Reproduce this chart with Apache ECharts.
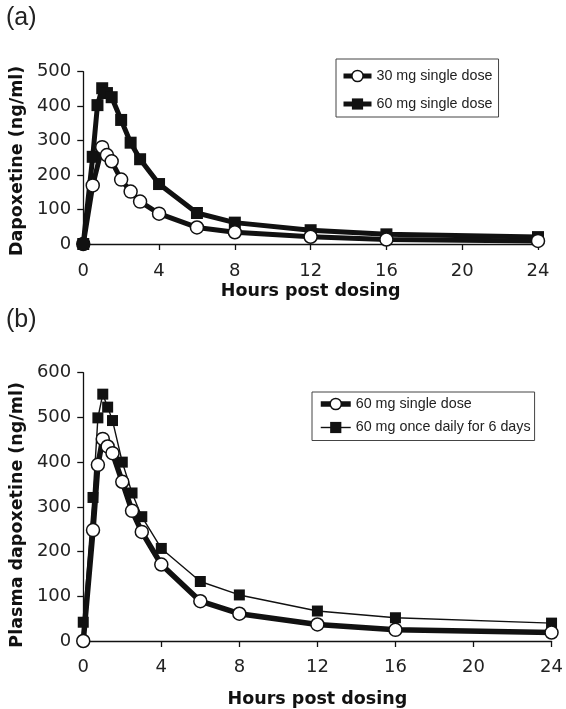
<!DOCTYPE html>
<html><head><meta charset="utf-8">
<script src="https://cdn.jsdelivr.net/npm/echarts@6/dist/echarts.min.js"></script>
<style>html,body{margin:0;padding:0;background:#fff}#c{width:566px;height:709px}</style>
</head><body><div id="c"></div>
<script>
// Panel (a)
const timesA30 = [0, 0.5, 1, 1.25, 1.5, 2, 2.5, 3, 4, 6, 8, 12, 16, 24];
const dose30a  = [0, 170, 281, 258, 240, 187, 152, 123, 88, 48, 34, 21, 13, 9];
const timesA60 = [0, 0.5, 0.75, 1, 1.25, 1.5, 2, 2.5, 3, 4, 6, 8, 12, 16, 24];
const dose60a  = [0, 253, 403, 452, 438, 426, 360, 294, 246, 174, 90, 62, 40, 28, 20];
// Panel (b)
const timesB    = [0, 0.5, 0.75, 1, 1.25, 1.5, 2, 2.5, 3, 4, 6, 8, 12, 16, 24];
const single60b = [0, 248, 394, 452, 435, 420, 356, 291, 244, 171, 89, 61, 37, 25, 19];
const multi60b  = [42, 321, 499, 552, 523, 493, 400, 331, 278, 207, 133, 103, 67, 52, 40];
// labels
const nameA30 = '30 mg single dose';
const nameA60 = '60 mg single dose';
const nameB1 = '60 mg single dose ';
const nameB2 = '60 mg once daily for 6 days';
const xTitle = 'Hours post dosing';
const yTitleA = 'Dapoxetine (ng/ml)';
const yTitleB = 'Plasma dapoxetine (ng/ml)';

const zip = (xs, ys) => xs.map((x, i) => [x, ys[i]]);
const FONT = 'DejaVu Sans';
const LFONT = 'Liberation Sans';

function xAxis(gi, gap, margin) {
  return {
    type: 'value', gridIndex: gi, min: 0, max: 24, interval: 4,
    name: xTitle, nameLocation: 'middle', nameGap: gap,
    nameTextStyle: { fontFamily: FONT, fontWeight: 'bold', fontSize: 17.5, color: '#111' },
    axisLine: { show: true, onZero: false, lineStyle: { color: '#111', width: 1.3 } },
    axisTick: { show: true, inside: false, length: 6, lineStyle: { color: '#111', width: 1.3 } },
    axisLabel: { fontFamily: FONT, fontSize: 18, color: '#222', margin: margin },
    splitLine: { show: false }
  };
}
function yAxis(gi, max, name, gap, shift) {
  return {
    type: 'value', gridIndex: gi, min: 0, max: max, interval: 100,
    name: name, nameLocation: 'middle', nameGap: gap, nameRotate: 90,
    nameTextStyle: { fontFamily: FONT, fontWeight: 'bold', fontSize: 17.5, color: '#111', padding: [0, shift, 0, 0] },
    axisLine: { show: true, onZero: false, lineStyle: { color: '#111', width: 1.3 } },
    axisTick: { show: true, inside: false, length: 6, lineStyle: { color: '#111', width: 1.3 } },
    axisLabel: { fontFamily: FONT, fontSize: 18, color: '#222', margin: 12 },
    splitLine: { show: false }
  };
}

const d30 = zip(timesA30, dose30a);
d30[0] = { value: d30[0], itemStyle: { color: '#111' } };

const option = {
  animation: false,
  backgroundColor: '#fff',
  title: [
    { text: '(a)', left: 6, top: 6, padding: 0, textStyle: { fontFamily: LFONT, fontWeight: 'normal', fontSize: 25, color: '#222' } },
    { text: '(b)', left: 6, top: 308, padding: 0, textStyle: { fontFamily: LFONT, fontWeight: 'normal', fontSize: 25, color: '#222' } }
  ],
  grid: [
    { left: 77, right: 28, top: 71.7, height: 172.3 },
    { left: 79, right: 13, top: 372.7, height: 269 }
  ],
  xAxis: [xAxis(0, 38, 18), xAxis(1, 49, 17)],
  yAxis: [yAxis(0, 500, yTitleA, 55, 6), yAxis(1, 600, yTitleB, 57, 16)],
  legend: [
    {
      data: [
        { name: nameA30, lineStyle: { width: 5, color: '#111' }, itemStyle: { color: '#fff', borderColor: '#111', borderWidth: 1.5 } },
        { name: nameA60, lineStyle: { width: 5, color: '#111' } }
      ],
      orient: 'vertical', left: 336, top: 59,
      padding: [10, 6, 6, 5], itemGap: 14, itemWidth: 28, itemHeight: 14,
      borderColor: '#444', borderWidth: 1, selectedMode: false,
      textStyle: { fontFamily: LFONT, fontSize: 14.3, color: '#222' }
    },
    {
      data: [
        { name: nameB1, lineStyle: { width: 5.5, color: '#111' }, itemStyle: { color: '#fff', borderColor: '#111', borderWidth: 1.5 } },
        { name: nameB2, lineStyle: { width: 1.4, color: '#111' } }
      ],
      orient: 'vertical', left: 312, top: 392,
      padding: [5, 4, 6, 6], itemGap: 9.5, itemWidth: 30, itemHeight: 14,
      borderColor: '#444', borderWidth: 1, selectedMode: false,
      textStyle: { fontFamily: LFONT, fontSize: 14.3, color: '#222' }
    }
  ],
  series: [
    {
      name: nameA60, type: 'line', xAxisIndex: 0, yAxisIndex: 0, data: zip(timesA60, dose60a),
      symbol: 'rect', symbolSize: 12, z: 2,
      lineStyle: { color: '#111', width: 5 }, itemStyle: { color: '#111', borderColor: '#111', borderWidth: 0 }
    },
    {
      name: nameA30, type: 'line', xAxisIndex: 0, yAxisIndex: 0, data: d30,
      symbol: 'circle', symbolSize: 13, z: 3,
      lineStyle: { color: '#111', width: 5 }, itemStyle: { color: '#fff', borderColor: '#111', borderWidth: 1.5 }
    },
    {
      name: nameB2, type: 'line', xAxisIndex: 1, yAxisIndex: 1, data: zip(timesB, multi60b),
      symbol: 'rect', symbolSize: 11, z: 2,
      lineStyle: { color: '#111', width: 1.4 }, itemStyle: { color: '#111', borderWidth: 0 }
    },
    {
      name: nameB1, type: 'line', xAxisIndex: 1, yAxisIndex: 1, data: zip(timesB, single60b),
      symbol: 'circle', symbolSize: 13, z: 3,
      lineStyle: { color: '#111', width: 5.5 }, itemStyle: { color: '#fff', borderColor: '#111', borderWidth: 1.5 }
    }
  ]
};
const chart = echarts.init(document.getElementById('c'), null, { renderer: 'canvas' });
chart.setOption(option);
</script></body></html>
